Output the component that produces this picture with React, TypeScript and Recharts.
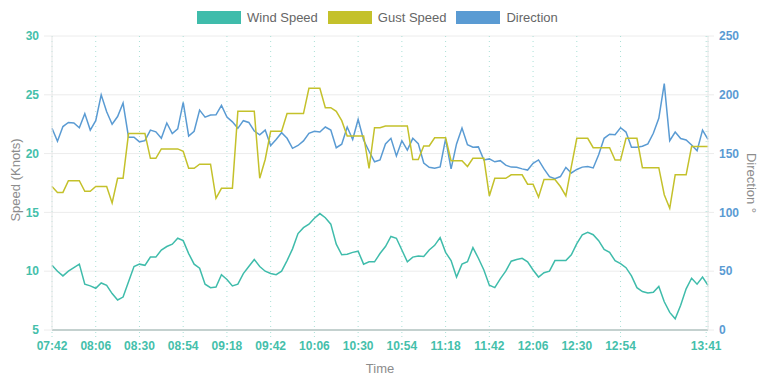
import { LineChart, Line, XAxis, YAxis, CartesianGrid } from "recharts";

// samples every 3 minutes starting 07:42
const START_MIN = 7 * 60 + 42;
const STEP_MIN = 3;

const TICK_LABELS = [
  "07:42", "08:06", "08:30", "08:54", "09:18", "09:42", "10:06", "10:30",
  "10:54", "11:18", "11:42", "12:06", "12:30", "12:54", "13:41",
];

const SPEED_TICKS = [5, 10, 15, 20, 25, 30];
const DIRECTION_TICKS = [0, 50, 100, 150, 200, 250];

const windSpeed = [
  10.5, 10.0, 9.6, 10.0, 10.3, 10.6, 8.9, 8.75, 8.55, 9.0,
  8.8, 8.1, 7.55, 7.8, 9.1, 10.4, 10.6, 10.5, 11.2, 11.2,
  11.8, 12.1, 12.3, 12.8, 12.6, 11.5, 10.6, 10.25, 8.9, 8.6,
  8.65, 9.7, 9.3, 8.75, 8.9, 9.8, 10.4, 11.0, 10.4, 10.0,
  9.8, 9.7, 10.0, 10.9, 11.9, 13.2, 13.7, 14.0, 14.5, 14.9,
  14.55, 14.0, 12.3, 11.4, 11.45, 11.6, 11.7, 10.6, 10.8, 10.8,
  11.5, 12.1, 12.95, 12.8, 11.8, 10.8, 11.2, 11.3, 11.25, 11.8,
  12.2, 12.85, 11.6, 10.9, 9.5, 10.6, 10.8, 12.0, 11.1, 10.1,
  8.8, 8.6, 9.35, 10.0, 10.85, 11.0, 11.1, 10.8, 10.1, 9.5,
  9.87, 10.0, 10.9, 10.9, 10.9, 11.4, 12.35, 13.1, 13.3, 13.1,
  12.6, 11.85, 11.6, 10.9, 10.65, 10.3, 9.6, 8.6, 8.27, 8.15,
  8.2, 8.7, 7.4, 6.5, 5.95, 7.1, 8.5, 9.4, 8.9, 9.5,
  8.8,
];

const gustSpeed = [
  17.2, 16.7, 16.7, 17.7, 17.7, 17.7, 16.8, 16.8, 17.2, 17.2,
  17.2, 15.8, 17.9, 17.9, 21.7, 21.7, 21.7, 21.7, 19.6, 19.6,
  20.4, 20.4, 20.4, 20.4, 20.2, 18.75, 18.75, 19.1, 19.1, 19.1,
  16.2, 17.05, 17.05, 17.05, 23.6, 23.6, 23.6, 23.6, 17.9, 19.5,
  21.9, 21.9, 21.9, 23.4, 23.4, 23.4, 23.4, 25.55, 25.55, 25.55,
  23.9, 23.9, 23.6, 22.8, 21.5, 21.5, 21.5, 21.5, 18.75, 22.2,
  22.2, 22.35, 22.35, 22.35, 22.35, 22.35, 19.5, 19.5, 20.65, 20.65,
  21.35, 21.35, 21.35, 19.4, 19.4, 19.4, 18.9, 19.6, 19.6, 19.6,
  16.4, 17.9, 17.9, 17.9, 18.2, 18.2, 18.2, 17.4, 17.4, 16.3,
  17.8, 17.8, 17.8, 17.2, 16.4, 18.9, 21.3, 21.3, 21.3, 20.5,
  20.5, 20.5, 20.5, 19.45, 19.45, 21.3, 21.3, 21.3, 18.8, 18.8,
  18.8, 18.8, 16.5, 15.35, 18.2, 18.2, 18.2, 20.6, 20.6, 20.6,
  20.6,
];

const direction = [
  171.5, 160.5, 173, 176.5, 176, 172, 184, 170, 178, 200,
  185.5, 175, 181.5, 193, 164, 164, 160, 161, 170, 168.5,
  163, 176, 167, 171, 193.5, 165, 169, 187, 181, 182.8,
  183, 191, 181, 177, 171.5, 178, 176.5, 169.2, 166, 170,
  156.9, 162, 167.8, 163, 154.5, 156.9, 160.8, 167.3, 169, 168.3,
  172.6, 170, 155, 158, 172.6, 162, 179, 161.6, 152, 143,
  144.6, 158.2, 163, 148, 161, 153, 163, 158.5, 142, 138.3,
  137.5, 138.7, 162.5, 137, 158.2, 171.7, 157.6, 155.4, 155.7, 144.6,
  145.5, 143, 144, 140.2, 138.5, 138.3, 137, 136, 141.7, 144.6,
  137, 130.4, 128.7, 130.5, 138.3, 133.5, 136.5, 138.5, 139, 137.8,
  149, 163, 166.5, 166, 172, 168.3, 155.5, 155.5, 156.2, 158.2,
  167.3, 180, 209.5, 161, 168.3, 162.8, 161.6, 157.3, 152.5, 170,
  162,
];

const WIND = "#3fbcab";
const GUST = "#c4c12b";
const DIR = "#5a9bd3";
const TEAL_TEXT = "#45bfab";
const TITLE = "#8c8c8c";

const toMin = (s: string) => {
  const [h, m] = s.split(":").map(Number);
  return h * 60 + m;
};
const fmt = (v: number) => {
  const h = Math.floor(v / 60);
  const m = v % 60;
  return `${String(h).padStart(2, "0")}:${String(m).padStart(2, "0")}`;
};

const xTicks = TICK_LABELS.map(toMin);

const data = windSpeed.map((w, i) => ({
  t: START_MIN + i * STEP_MIN,
  wind: w,
  gust: gustSpeed[i],
  dir: direction[i],
}));

const legendItems = [
  { label: "Wind Speed", color: WIND },
  { label: "Gust Speed", color: GUST },
  { label: "Direction", color: DIR },
];

export default function App() {
  return (
    <div
      style={{
        position: "absolute",
        left: 0,
        top: 0,
        width: 768,
        height: 380,
        background: "#fff",
        fontFamily: "'Liberation Sans', Arial, sans-serif",
      }}
    >
      {/* legend */}
      <div
        style={{
          position: "absolute",
          top: 10,
          left: 197,
          display: "flex",
          alignItems: "center",
          fontSize: 13,
          color: "#666",
        }}
      >
        {legendItems.map((it) => (
          <div key={it.label} style={{ display: "flex", alignItems: "center", marginRight: 10 }}>
            <span
              style={{
                display: "inline-block",
                width: 44,
                height: 13,
                background: it.color,
                marginRight: 6,
              }}
            />
            <span>{it.label}</span>
          </div>
        ))}
      </div>

      {/* axis titles */}
      <div
        style={{
          position: "absolute",
          left: 15,
          top: 180,
          transform: "translate(-50%, -50%) rotate(-90deg)",
          whiteSpace: "nowrap",
          fontSize: 13,
          color: TITLE,
        }}
      >
        Speed (Knots)
      </div>
      <div
        style={{
          position: "absolute",
          left: 751,
          top: 183,
          transform: "translate(-50%, -50%) rotate(90deg)",
          whiteSpace: "nowrap",
          fontSize: 13,
          color: TITLE,
        }}
      >
        Direction °
      </div>
      <div
        style={{
          position: "absolute",
          left: 380,
          top: 368,
          transform: "translate(-50%, -50%)",
          fontSize: 13,
          color: TITLE,
        }}
      >
        Time
      </div>

      <LineChart
        width={768}
        height={380}
        data={data}
        margin={{ top: 36, right: 0, bottom: 0, left: 0 }}
      >
        <CartesianGrid
          yAxisId="speed"
          vertical={false}
          stroke="#ececec"
        />
        <CartesianGrid
          yAxisId="speed"
          horizontal={false}
          stroke="#a9e0d6"
          strokeDasharray="1 4"
        />
        <XAxis
          dataKey="t"
          type="number"
          domain={[START_MIN, START_MIN + (windSpeed.length - 1) * STEP_MIN]}
          ticks={xTicks}
          tickFormatter={fmt}
          interval={0}
          height={50}
          axisLine={{ stroke: "#c4d1cf", strokeWidth: 2 }}
          tickLine={{ stroke: "#a9e0d6", strokeDasharray: "1 3" }}
          tickSize={7}
          tickMargin={4}
          tick={{ fill: TEAL_TEXT, fontSize: 12, fontWeight: "bold" }}
        />
        <YAxis
          yAxisId="speed"
          domain={[5, 30]}
          ticks={SPEED_TICKS}
          width={52}
          axisLine={{ stroke: "#e6e6e6" }}
          tickLine={{ stroke: "#ececec" }}
          tickSize={8}
          tickMargin={5}
          tick={{ fill: TEAL_TEXT, fontSize: 12, fontWeight: "bold" }}
        />
        <YAxis
          yAxisId="dir"
          orientation="right"
          domain={[0, 250]}
          ticks={DIRECTION_TICKS}
          width={60}
          axisLine={{ stroke: "#e6e6e6" }}
          tickLine={{ stroke: "#ececec" }}
          tickSize={6}
          tickMargin={5}
          tick={{ fill: DIR, fontSize: 12, fontWeight: "bold" }}
        />
        <Line
          yAxisId="dir"
          type="linear"
          dataKey="dir"
          stroke={DIR}
          strokeWidth={1.5}
          dot={false}
          isAnimationActive={false}
        />
        <Line
          yAxisId="speed"
          type="linear"
          dataKey="gust"
          stroke={GUST}
          strokeWidth={1.5}
          dot={false}
          isAnimationActive={false}
        />
        <Line
          yAxisId="speed"
          type="linear"
          dataKey="wind"
          stroke={WIND}
          strokeWidth={1.5}
          dot={false}
          isAnimationActive={false}
        />
      </LineChart>
    </div>
  );
}
